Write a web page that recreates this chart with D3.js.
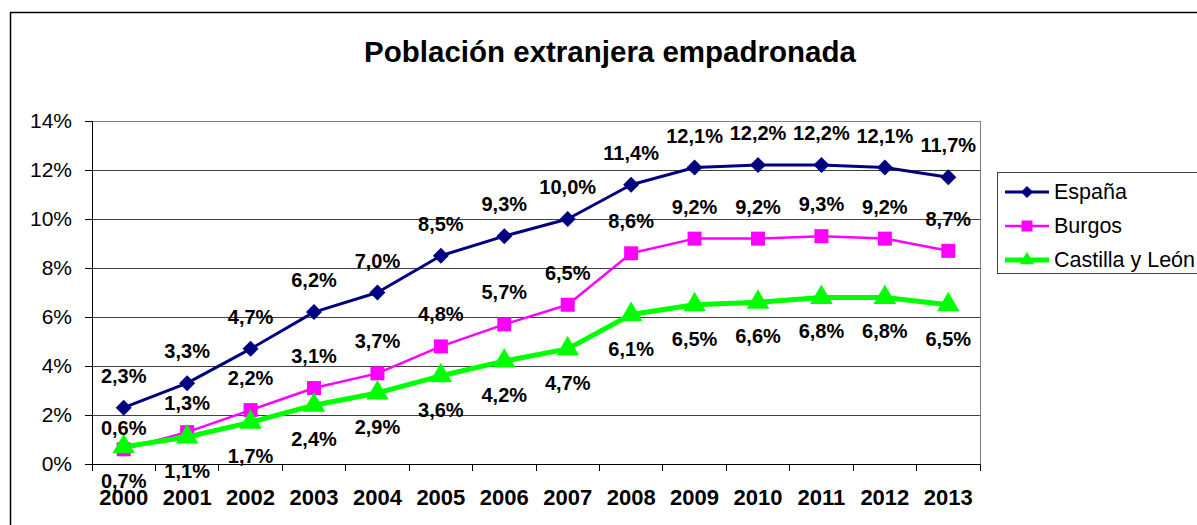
<!DOCTYPE html>
<html>
<head>
<meta charset="utf-8">
<script src="https://cdn.jsdelivr.net/npm/d3@7"></script>
<style>
  body { margin: 0; background: #fff; }
  svg { display: block; font-family: "Liberation Sans", Arial, sans-serif; }
</style>
</head>
<body>
<svg id="chart" width="1197" height="525"></svg>
<script>
// datos
var years = ["2000","2001","2002","2003","2004","2005","2006","2007","2008","2009","2010","2011","2012","2013"];
var espana = [2.3, 3.3, 4.7, 6.2, 7.0, 8.5, 9.3, 10.0, 11.4, 12.1, 12.2, 12.2, 12.1, 11.7];
var burgos = [0.6, 1.3, 2.2, 3.1, 3.7, 4.8, 5.7, 6.5, 8.6, 9.2, 9.2, 9.3, 9.2, 8.7];
var castilla = [0.7, 1.1, 1.7, 2.4, 2.9, 3.6, 4.2, 4.7, 6.1, 6.5, 6.6, 6.8, 6.8, 6.5];
var yTicks = [0, 2, 4, 6, 8, 10, 12, 14];
var seriesNames = ["España", "Burgos", "Castilla y León"];

var svg = d3.select("#chart");

// marco exterior
svg.append("rect")
  .attr("x", 10.5).attr("y", 12.5)
  .attr("width", 1300).attr("height", 600)
  .attr("fill", "none").attr("stroke", "#000").attr("stroke-width", 1.5);

svg.append("text")
  .attr("x", 610).attr("y", 62)
  .attr("text-anchor", "middle")
  .attr("font-size", 29.5).attr("font-weight", "bold")
  .text("Población extranjera empadronada");

var plotL = 92, plotR = 980, plotT = 121, plotB = 464;

var x = d3.scaleBand().domain(years).range([plotL, plotR]).padding(0);
var y = d3.scaleLinear().domain([0, 14]).range([plotB, plotT]);
var cx = function(i){ return x(years[i]) + x.bandwidth() / 2; };

// rejilla
svg.append("g")
  .attr("transform", "translate(" + plotL + ",0)")
  .call(d3.axisLeft(y).tickValues(yTicks).tickSize(-(plotR - plotL)).tickFormat(""))
  .call(function(g){
    g.select(".domain").remove();
    g.selectAll(".tick line").attr("stroke", "#404040").attr("shape-rendering", "crispEdges");
  });

// borde del área de trazado
svg.append("path")
  .attr("d", "M" + plotL + "," + (plotT + 0.5) + "H" + (plotR + 0.5) + "V" + plotB)
  .attr("fill", "none").attr("stroke", "#808080").attr("stroke-width", 1)
  .attr("shape-rendering", "crispEdges");

// eje Y
svg.append("g")
  .attr("transform", "translate(" + plotL + ",0)")
  .call(d3.axisLeft(y).tickValues(yTicks).tickSize(7).tickPadding(13)
        .tickFormat(function(d){ return d + "%"; }))
  .call(function(g){
    g.select(".domain").attr("stroke", "#000").attr("shape-rendering", "crispEdges");
    g.selectAll(".tick line").attr("stroke", "#000").attr("shape-rendering", "crispEdges");
    g.selectAll(".tick text").attr("font-size", 21).attr("fill", "#000")
      .attr("font-family", "Liberation Sans, Arial, sans-serif");
  });

// eje X
svg.append("g")
  .attr("transform", "translate(0," + plotB + ")")
  .call(d3.axisBottom(x).tickSize(0).tickSizeOuter(0))
  .call(function(g){
    g.select(".domain").attr("stroke", "#000").attr("shape-rendering", "crispEdges");
    g.selectAll(".tick text").attr("y", 41).attr("dy", 0)
      .attr("font-size", 22).attr("font-weight", "bold").attr("fill", "#000")
      .attr("font-family", "Liberation Sans, Arial, sans-serif");
  });

// marcas entre categorías
svg.append("g").selectAll("line")
  .data(years.concat(["end"]))
  .join("line")
  .attr("x1", function(d, i){ return plotL + i * x.step(); })
  .attr("x2", function(d, i){ return plotL + i * x.step(); })
  .attr("y1", plotB).attr("y2", plotB + 7)
  .attr("stroke", "#000").attr("shape-rendering", "crispEdges");

var series = [
  { name: seriesNames[0], values: espana, color: "#000080", width: 3, symbol: d3.symbolSquare, size: 128, rotate: 45, lsize: 72, labelDy: -25 },
  { name: seriesNames[1], values: burgos, color: "#FF00FF", width: 2.5, symbol: d3.symbolSquare, size: 196, rotate: 0, lsize: 121, labelDy: -25 },
  { name: seriesNames[2], values: castilla, color: "#00FF00", width: 5, symbol: d3.symbolTriangle, size: 220, rotate: 0, lsize: 90, labelDy: 41 }
];

var line = d3.line()
  .x(function(d, i){ return cx(i); })
  .y(function(d){ return y(d); });

var fmt = function(v){ return d3.format(".1f")(v).replace(".", ",") + "%"; };

// series en el orden de la hoja: la última queda encima
series.forEach(function(s){
  svg.append("path")
    .datum(s.values)
    .attr("d", line)
    .attr("fill", "none")
    .attr("stroke", s.color)
    .attr("stroke-width", s.width)
    .attr("stroke-linejoin", "round");

  svg.append("g").selectAll("path")
    .data(s.values)
    .join("path")
    .attr("d", d3.symbol().type(s.symbol).size(s.size))
    .attr("transform", function(d, i){ return "translate(" + cx(i) + "," + y(d) + ") rotate(" + s.rotate + ")"; })
    .attr("fill", s.color);
});

// etiquetas de datos
series.forEach(function(s, k){
  svg.append("g").selectAll("text")
    .data(s.values)
    .join("text")
    .attr("x", function(d, i){ return cx(i); })
    .attr("y", function(d, i){
      var ly = y(d) + s.labelDy;
      // la etiqueta de Burgos no debe pisar el marcador de España
      if (k === 1) ly = Math.max(ly, y(espana[i]) + 27);
      return ly;
    })
    .attr("text-anchor", "middle")
    .attr("font-size", 20).attr("font-weight", "bold")
    .text(fmt);
});

// leyenda
var legend = svg.append("g");
legend.append("rect")
  .attr("x", 997.5).attr("y", 172.5)
  .attr("width", 300).attr("height", 101)
  .attr("fill", "#fff").attr("stroke", "#404040").attr("stroke-width", 1);

series.forEach(function(s, i){
  var ly = 192 + i * 34;
  legend.append("line")
    .attr("x1", 1005).attr("x2", 1049)
    .attr("y1", ly).attr("y2", ly)
    .attr("stroke", s.color).attr("stroke-width", s.width);
  legend.append("path")
    .attr("d", d3.symbol().type(s.symbol).size(s.lsize))
    .attr("transform", "translate(1027," + ly + ") rotate(" + s.rotate + ")")
    .attr("fill", s.color);
  legend.append("text")
    .attr("x", 1054).attr("y", ly + 7)
    .attr("font-size", 21.5)
    .text(s.name);
});
</script>
</body>
</html>
